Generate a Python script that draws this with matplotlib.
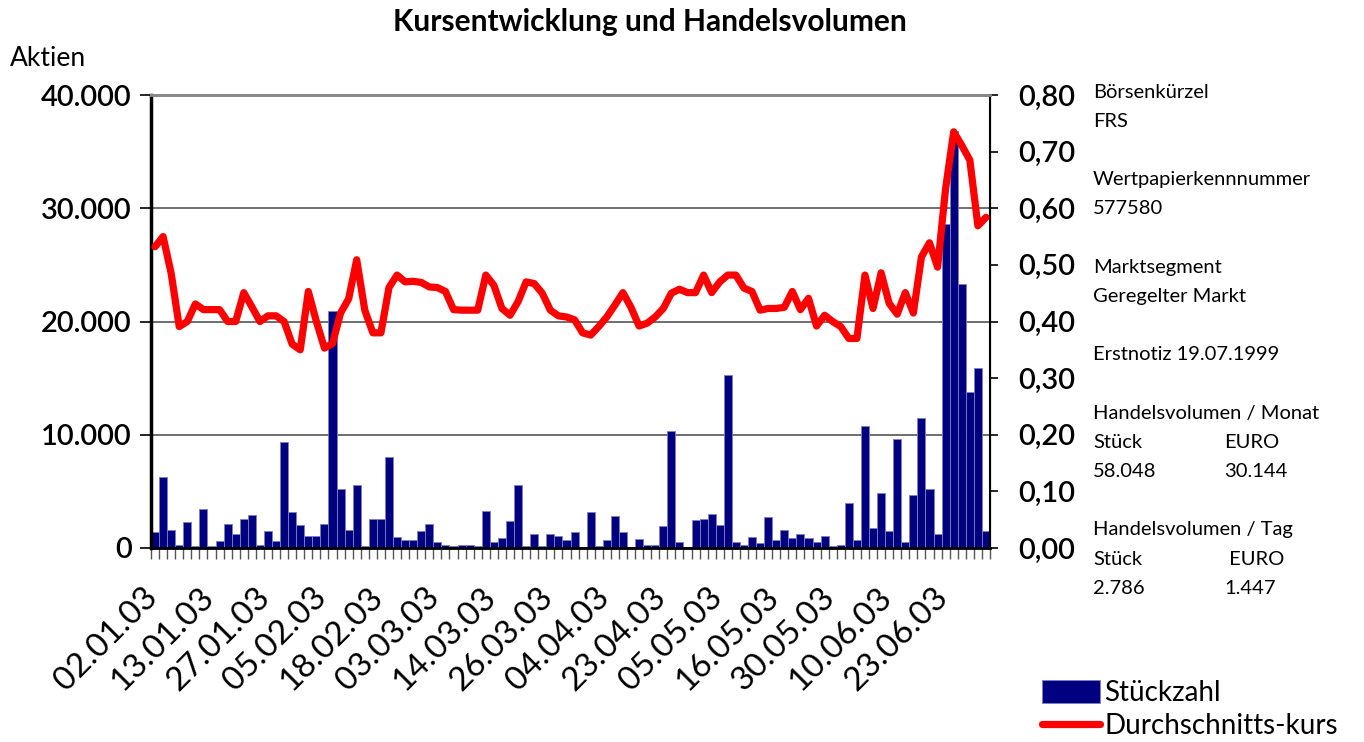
"""Kursentwicklung und Handelsvolumen (FRS, 1. Halbjahr 2003)."""
import matplotlib
matplotlib.use("Agg")
import matplotlib.pyplot as plt
import matplotlib.transforms as mtransforms
from matplotlib.ticker import FuncFormatter, FixedLocator, NullFormatter
import numpy as np

plt.rcParams['font.family'] = ['Lato', 'DejaVu Sans']

# daily traded shares (Stückzahl)
volume = [
    1400, 6300, 1600, 300, 2300, 200, 3400, 200, 600, 2100,
    1200, 2600, 2900, 300, 1500, 600, 9400, 3200, 2000, 1100,
    1100, 2100, 20900, 5200, 1600, 5600, 200, 2600, 2600, 8000,
    1000, 700, 700, 1500, 2100, 500, 300, 200, 300, 300,
    200, 3300, 500, 900, 2400, 5600, 200, 1200, 150, 1200,
    1100, 700, 1400, 100, 3200, 200, 700, 2800, 1400, 100,
    800, 300, 300, 1900, 10300, 500, 100, 2500, 2600, 3000,
    2000, 15300, 500, 300, 1000, 400, 2700, 700, 1600, 900,
    1200, 900, 500, 1100, 200, 300, 4000, 700, 10800, 1800,
    4900, 1500, 9600, 500, 4700, 11500, 5200, 1200, 28600, 36800,
    23300, 13800, 15900, 1500,
]

# average price in EUR (Durchschnittskurs)
price = [
    0.532, 0.550, 0.485, 0.391, 0.400, 0.431, 0.421, 0.421, 0.421, 0.400,
    0.400, 0.451, 0.426, 0.400, 0.410, 0.410, 0.400, 0.360, 0.350, 0.453,
    0.400, 0.353, 0.361, 0.415, 0.440, 0.509, 0.420, 0.380, 0.380, 0.460,
    0.482, 0.470, 0.471, 0.469, 0.461, 0.460, 0.453, 0.421, 0.420, 0.420,
    0.420, 0.482, 0.464, 0.423, 0.411, 0.435, 0.470, 0.467, 0.450, 0.420,
    0.410, 0.408, 0.403, 0.380, 0.376, 0.391, 0.408, 0.429, 0.451, 0.425,
    0.392, 0.397, 0.408, 0.423, 0.450, 0.457, 0.451, 0.451, 0.482, 0.451,
    0.470, 0.482, 0.482, 0.459, 0.453, 0.420, 0.423, 0.423, 0.425, 0.453,
    0.421, 0.441, 0.392, 0.411, 0.400, 0.391, 0.370, 0.370, 0.482, 0.423,
    0.486, 0.432, 0.413, 0.451, 0.415, 0.514, 0.539, 0.496, 0.635, 0.735,
    0.711, 0.685, 0.569, 0.584,
]

# every 7th trading day is labelled
date_labels = ["02.01.03", "13.01.03", "27.01.03", "05.02.03", "18.02.03",
               "03.03.03", "14.03.03", "26.03.03", "04.04.03", "23.04.03",
               "05.05.03", "16.05.03", "30.05.03", "10.06.03", "23.06.03"]
label_step = 7

info_lines = [
    ("Börsenkürzel", None), ("FRS", None), ("", None),
    ("Wertpapierkennnummer", None), ("577580", None), ("", None),
    ("Marktsegment", None), ("Geregelter Markt", None), ("", None),
    ("Erstnotiz 19.07.1999", None), ("", None),
    ("Handelsvolumen / Monat", None), ("Stück", "EURO"), ("58.048", "30.144"), ("", None),
    ("Handelsvolumen / Tag", None), ("Stück", " EURO"), ("2.786", "1.447"),
]

W, H = 1364, 742
fig = plt.figure(figsize=(W / 100, H / 100), dpi=100)
ax = fig.add_axes([151 / W, 1 - 548 / H, (990 - 151) / W, (548 - 95) / H])
ax2 = ax.twinx()

x = np.arange(len(volume))
bars = ax.bar(x, volume, width=1.0, color='#000080', edgecolor='#7f7fbf',
              linewidth=0.6, label='Stückzahl', zorder=2)
line, = ax2.plot(x, price, color='#ff0000', linewidth=5.2,
                 solid_joinstyle='round', solid_capstyle='round',
                 label='Durchschnitts-kurs', zorder=3)

ax.set_xlim(-0.5, len(volume) - 0.5)
ax.set_ylim(0, 40000)
ax2.set_ylim(0, 0.8)
ax.set_yticks([0, 10000, 20000, 30000, 40000])
ax2.set_yticks(np.arange(0, 0.81, 0.1))
ax.yaxis.set_major_formatter(FuncFormatter(lambda v, p: f"{int(v):,}".replace(",", ".")))
ax2.yaxis.set_major_formatter(FuncFormatter(lambda v, p: f"{v:.2f}".replace(".", ",")))

ax.yaxis.grid(True, color='#555555', linewidth=1.2, zorder=0)
ax.set_axisbelow(True)

# date labels: rotated, anchored at their top-right end below the category
label_pos = x[::label_step][:len(date_labels)]
ax.set_xticks(label_pos)
ax.xaxis.set_major_formatter(NullFormatter())
ax.tick_params(axis='x', which='major', length=0)
lab_trans = ax.get_xaxis_transform() + mtransforms.ScaledTranslation(
    -13 / 100, -34 / 100, fig.dpi_scale_trans)
for pos, txt in zip(label_pos, date_labels):
    ax.text(pos, 0, txt, transform=lab_trans, rotation=45, ha='right', va='top',
            rotation_mode='anchor', fontsize=24, clip_on=False)

ax.xaxis.set_minor_locator(FixedLocator(np.arange(-0.5, len(volume), 1.0)))
ax.tick_params(axis='x', which='minor', length=8, width=1, color='#555555', direction='out')

ax.tick_params(axis='y', length=8, width=1.2, labelsize=21, pad=6)
ax2.tick_params(axis='y', length=6, width=1.2, labelsize=21, pad=14)
for lab in ax.get_yticklabels() + ax2.get_yticklabels():
    lab.set_fontweight('semibold')

for a in (ax, ax2):
    a.spines['top'].set_color('#888888')
    a.spines['top'].set_linewidth(2)
ax.spines['left'].set_linewidth(2.5)
ax.spines['bottom'].set_linewidth(2)
ax2.spines['right'].set_linewidth(1.5)

fig.text(650 / W, 1 - 22 / H, "Kursentwicklung und Handelsvolumen",
         ha='center', va='center', fontsize=21.5, fontweight='bold')
fig.text(10 / W, 1 - 58 / H, "Aktien", ha='left', va='center', fontsize=19)

y0, dy = 92, 29.2
for i, (left, right) in enumerate(info_lines):
    yy = 1 - (y0 + i * dy) / H
    if left:
        fig.text(1093 / W, yy, left, ha='left', va='center', fontsize=14.5)
    if right:
        fig.text(1224 / W, yy, right, ha='left', va='center', fontsize=14.5)

fig.legend(handles=[bars, line], loc='upper left',
           bbox_to_anchor=(1028 / W, 1 - 666 / H), frameon=False,
           fontsize=20, handlelength=2.1, handleheight=0.9,
           handletextpad=0.15, labelspacing=0.25, borderpad=0)

fig.savefig("out.png", dpi=100)
plt.close()
